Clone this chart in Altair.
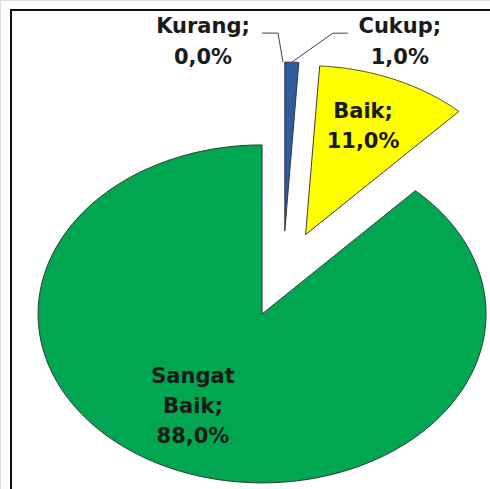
import altair as alt
import pandas as pd

# ---- data ----
categories = ["Kurang", "Cukup", "Baik", "Sangat Baik"]
values = [0.0, 1.0, 11.0, 88.0]

# ---- style ----
colors = ["#C0504D", "#2F5C9C", "#FFFF00", "#00A650"]
W, H = 490, 489
CX, CY = 283, 274          # pie centre (px)
RX, RY = 224, 169          # pie radii (picture is stretched horizontally)
EXPLODE = 0.254            # explosion as a fraction of the radius
N = 160                    # arc resolution
FONT = "DejaVu Sans"
FS = 21
LH = 30
TEXT_COLOR = "#1a1a1a"

# label placement per category (styling only)
inner_frac = {"Baik": 0.68, "Sangat Baik": 0.68}
inner_nudge = {"Baik": (-3, -2), "Sangat Baik": (-13, -14)}
# outer: label offset from the slice edge, elbow offset, tail length
outer_style = {
    "Kurang": {"lx": -80, "ly": -20, "ex": -5, "ey": -29, "tail": -16},
    "Cukup": {"lx": 108, "ly": -20, "ex": 41, "ey": -29, "tail": 15},
}


def make_label(cat, val):
    return "\n".join(cat.split(" ")) + ";\n" + f"{val:.1f}".replace(".", ",") + "%"


df = pd.DataFrame({
    "category": categories,
    "value": values,
    "order": list(range(len(categories))),
    "label": [make_label(c, v) for c, v in zip(categories, values)],
    "kind": ["outer" if c in outer_style else "inner" for c in categories],
    "frac": [inner_frac.get(c, 1.0) for c in categories],
    "nx": [inner_nudge.get(c, (0, 0))[0] for c in categories],
    "ny": [inner_nudge.get(c, (0, 0))[1] for c in categories],
    "olx": [outer_style.get(c, {}).get("lx", 0) for c in categories],
    "oly": [outer_style.get(c, {}).get("ly", 0) for c in categories],
    "oex": [outer_style.get(c, {}).get("ex", 0) for c in categories],
    "oey": [outer_style.get(c, {}).get("ey", 0) for c in categories],
    "otail": [outer_style.get(c, {}).get("tail", 0) for c in categories],
})

xs = alt.Scale(domain=[0, W], nice=False, zero=False)
ys = alt.Scale(domain=[0, H], nice=False, zero=False, reverse=True)

base = (
    alt.Chart(df)
    .transform_joinaggregate(total="sum(value)")
    .transform_window(cum="sum(value)", sort=[alt.SortField("order")], frame=[None, 0])
    .transform_calculate(
        a0="2*PI*(datum.cum - datum.value)/datum.total",
        a1="2*PI*datum.cum/datum.total",
        nlines="length(split(datum.label, '\\n'))",
    )
    .transform_calculate(am="(datum.a0 + datum.a1)/2")
    .transform_calculate(
        ax=f"{CX} + {RX}*{EXPLODE}*sin(datum.am)",
        ay=f"{CY} - {RY}*{EXPLODE}*cos(datum.am)",
    )
    .transform_calculate(
        edx=f"datum.ax + {RX}*sin(datum.am)",
        edy=f"datum.ay - {RY}*cos(datum.am)",
    )
)

slices = (
    base.transform_filter("datum.value > 0")
    .transform_calculate(k=f"sequence(0, {N + 2})")
    .transform_flatten(["k"])
    .transform_calculate(t=f"(datum.k - 1)/({N} - 1)")
    .transform_calculate(
        th="datum.a0 + datum.t*(datum.a1 - datum.a0)",
        isapex=f"datum.k == 0 || datum.k == {N + 1}",
    )
    .transform_calculate(
        px=f"datum.isapex ? datum.ax : datum.ax + {RX}*sin(datum.th)",
        py=f"datum.isapex ? datum.ay : datum.ay - {RY}*cos(datum.th)",
    )
    .mark_line(stroke="#2a2a2a", strokeWidth=0.9, strokeJoin="miter", interpolate="linear")
    .encode(
        x=alt.X("px:Q", scale=xs, axis=None),
        y=alt.Y("py:Q", scale=ys, axis=None),
        order=alt.Order("k:Q"),
        fill=alt.Fill("category:N", scale=alt.Scale(domain=categories, range=colors), legend=None),
        detail="category:N",
    )
)

inner_labels = (
    base.transform_filter("datum.kind == 'inner'")
    .transform_calculate(
        lx=f"datum.ax + datum.frac*{RX}*sin(datum.am) + datum.nx",
        ly=f"datum.ay - datum.frac*{RY}*cos(datum.am) + datum.ny - (datum.nlines - 1)*{LH}/2",
    )
    .mark_text(font=FONT, fontSize=FS, fontWeight="bold", color=TEXT_COLOR,
               lineBreak="\n", lineHeight=LH, align="center", baseline="middle")
    .encode(x=alt.X("lx:Q", scale=xs, axis=None), y=alt.Y("ly:Q", scale=ys, axis=None), text="label:N")
)

outer_labels = (
    base.transform_filter("datum.kind == 'outer'")
    .transform_calculate(lx="datum.edx + datum.olx",
                         ly=f"datum.edy + datum.oly - (datum.nlines - 1)*{LH + 1}/2")
    .mark_text(font=FONT, fontSize=FS, fontWeight="bold", color=TEXT_COLOR,
               lineBreak="\n", lineHeight=LH + 1, align="center", baseline="middle")
    .encode(x=alt.X("lx:Q", scale=xs, axis=None), y=alt.Y("ly:Q", scale=ys, axis=None), text="label:N")
)

leaders = (
    base.transform_filter("datum.kind == 'outer'")
    .transform_calculate(k="sequence(0, 3)")
    .transform_flatten(["k"])
    .transform_calculate(
        px="datum.k == 0 ? datum.edx : (datum.k == 1 ? datum.edx + datum.oex : datum.edx + datum.oex + datum.otail)",
        py="datum.k == 0 ? datum.edy : datum.edy + datum.oey",
    )
    .mark_line(color="#444444", strokeWidth=1)
    .encode(
        x=alt.X("px:Q", scale=xs, axis=None),
        y=alt.Y("py:Q", scale=ys, axis=None),
        order=alt.Order("k:Q"),
        detail="category:N",
    )
)

border = (
    alt.Chart(pd.DataFrame({"b": [0]}))
    .mark_rect(fillOpacity=0, stroke="#111111", strokeWidth=2)
    .encode(x=alt.value(11), x2=alt.value(W + 10), y=alt.value(10), y2=alt.value(H + 10))
)

chart = (
    alt.layer(slices, leaders, inner_labels, outer_labels, border)
    .properties(width=W, height=H, padding=0, autosize=alt.AutoSizeParams(type="none"))
    .configure_view(stroke=None)
    .configure(background="white")
)

chart.save("out.html", embed_options={"renderer": "svg", "actions": False})
